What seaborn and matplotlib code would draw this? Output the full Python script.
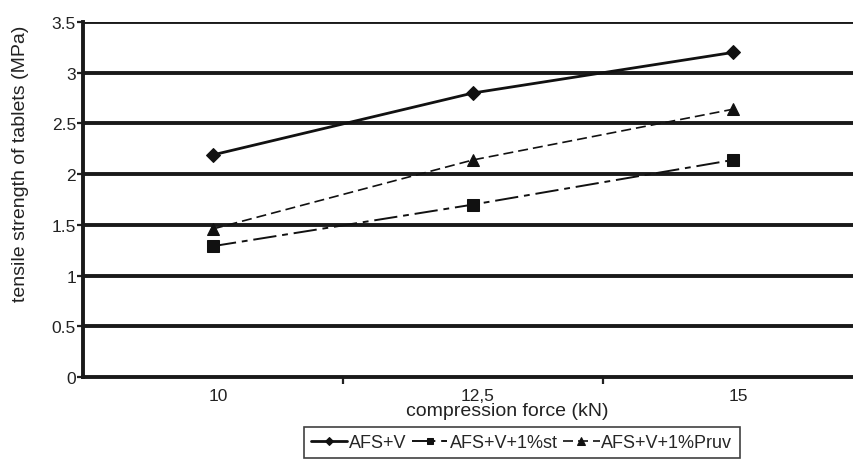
import matplotlib
matplotlib.use("Agg")
import matplotlib.pyplot as plt
import seaborn as sns
import pandas as pd
from matplotlib.ticker import FixedLocator
from matplotlib.transforms import ScaledTranslation

categories = ["10", "12,5", "15"]
afs_v = [2.19, 2.80, 3.20]
afs_v_st = [1.29, 1.70, 2.14]
afs_v_pruv = [1.46, 2.14, 2.64]
series_names = ["AFS+V", "AFS+V+1%st", "AFS+V+1%Pruv"]
y_ticks = [0, 0.5, 1, 1.5, 2, 2.5, 3, 3.5]
y_labels = ["0", "0.5", "1", "1.5", "2", "2.5", "3", "3.5"]

sns.set_theme(style="white")
plt.rcParams['font.family'] = ['Liberation Sans', 'DejaVu Sans']

fig = plt.figure(figsize=(8.54, 4.6), dpi=100)
ax = fig.add_axes([83/854, 1-378/460, 780/854, (378-23)/460])

df = pd.DataFrame({
    "force": categories * 3,
    "strength": afs_v + afs_v_st + afs_v_pruv,
    "series": [series_names[0]]*3 + [series_names[1]]*3 + [series_names[2]]*3,
})

styles = {
    series_names[0]: dict(ls="-", lw=2.0, marker="D", ms=7),
    series_names[1]: dict(ls=(0, (12, 3, 3, 3)), lw=1.4, marker="s", ms=8),
    series_names[2]: dict(ls=(0, (6, 3)), lw=1.2, marker="^", ms=9),
}

for name in series_names:
    sub = df[df.series == name]
    st = styles[name]
    sns.lineplot(data=sub, x="force", y="strength", ax=ax, color="#111111",
                 linestyle=st["ls"], linewidth=st["lw"], marker=st["marker"],
                 markersize=st["ms"], markeredgecolor="#111111", label=name,
                 legend=False, zorder=3)

for yv in y_ticks[1:]:
    ax.axhline(yv, color="#1a1a1a", lw=2.8, zorder=1)

ax.set_xlim(-0.5, 2.5)
ax.set_ylim(0, 3.5)
ax.set_yticks(y_ticks)
ax.set_yticklabels(y_labels)
ax.set_xticks([0, 1, 2])
ax.set_xticklabels(categories)
ax.xaxis.set_minor_locator(FixedLocator([0.5, 1.5]))
ax.tick_params(axis="x", which="major", length=0, pad=8, labelsize=12.5, colors="#222222")
ax.tick_params(axis="x", which="minor", length=5, width=1.6, direction="out", bottom=True, color="#222222")
ax.tick_params(axis="y", which="major", length=4, width=1.6, direction="out", left=True, pad=1, labelsize=12.5, colors="#222222")

for lab in ax.get_xticklabels():
    lab.set_transform(lab.get_transform() + ScaledTranslation(5/100, 0, fig.dpi_scale_trans))

for s in ["top", "right"]:
    ax.spines[s].set_visible(False)
for s in ["left", "bottom"]:
    ax.spines[s].set_color("#1a1a1a")
    ax.spines[s].set_linewidth(2.8)

ax.set_xlabel("compression force (kN)", fontsize=14, color="#222222")
ax.xaxis.set_label_coords((507-83)/780, -(403-378)/355)
ax.set_ylabel("tensile strength of tablets (MPa)", fontsize=14, color="#222222")
ax.yaxis.set_label_coords((29-83)/780, (378-164)/355)

handles, labels = ax.get_legend_handles_labels()
leg = fig.legend(handles, labels, loc="upper left", bbox_to_anchor=(304/854, 1-428/460),
                 ncol=3, frameon=True, fancybox=False, handlelength=2.0,
                 handletextpad=0.1, columnspacing=0.3, fontsize=13,
                 borderpad=0.4, borderaxespad=0, markerscale=0.6)
leg.get_frame().set_edgecolor("#111111")
leg.get_frame().set_linewidth(1.2)

fig.savefig("out.png", dpi=100)
